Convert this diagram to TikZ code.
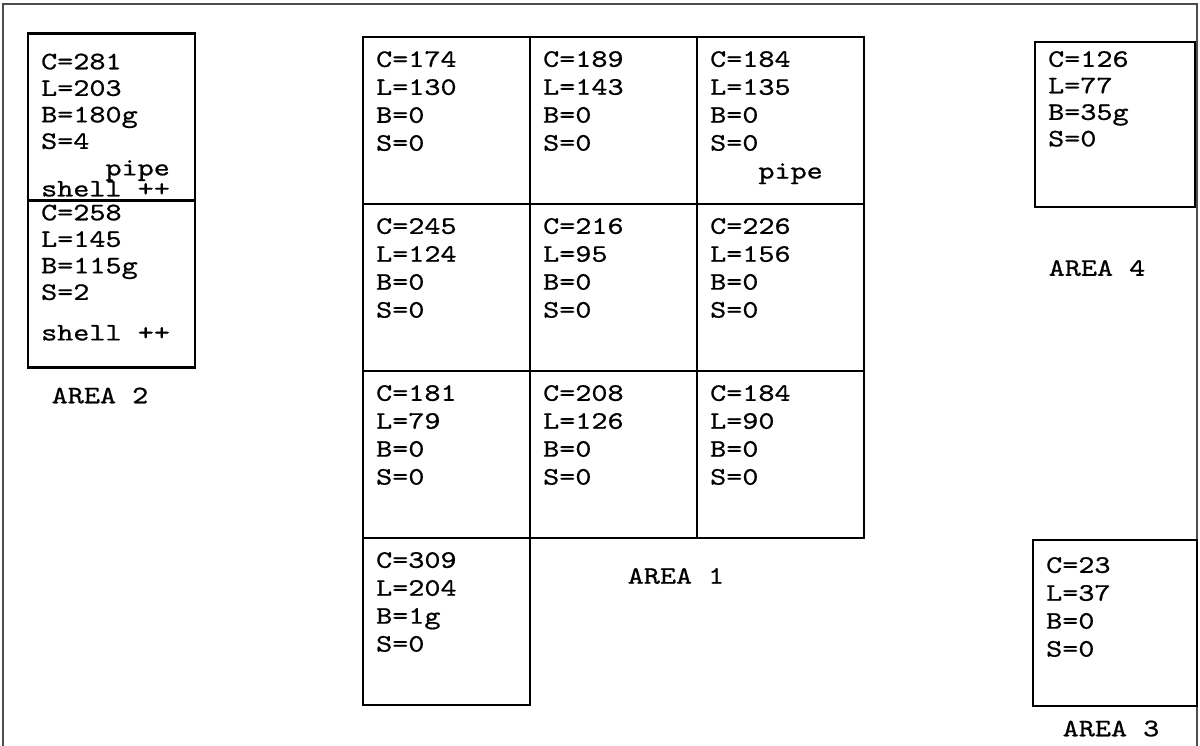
\documentclass[tikz,border=0pt]{standalone}
\usepackage{fontspec}
\setmonofont{lmmono10-regular.otf}[FakeStretch=1.22, FakeBold=0.7]
\usetikzlibrary{positioning}
\newcommand{\tallyfont}{\fontsize{14.3}{15.9}\selectfont\ttfamily}
\tikzset{
  every picture/.style={line width=1.3pt},
  plot/.style={draw, rectangle, inner sep=0pt, outer sep=0pt, minimum width=3.34cm, minimum height=3.34cm},
  tally/.style={font=\tallyfont, align=left, inner sep=0pt, anchor=north west},
  tight/.style={font=\fontsize{14.3}{15.1}\selectfont\ttfamily},
  areatag/.style={font=\tallyfont, inner sep=0pt},
  frame/.style={line width=0.6pt, draw=black!70},
}

\begin{document}
\begin{tikzpicture}[x=0.02cm, y=-0.02cm]
  \useasboundingbox (0,0) rectangle (1200,746);
  \draw[frame] (3,746) -- (3,4) -- (1197,4) -- (1197,746);
  % area 1: the grid of plots
  \foreach \i/\j/\txt in {1/1/{C=174\\L=130\\B=0\\S=0}, 2/1/{C=189\\L=143\\B=0\\S=0},
      3/1/{C=184\\L=135\\B=0\\S=0\\\phantom{xxx}pipe},
      1/2/{C=245\\L=124\\B=0\\S=0}, 2/2/{C=216\\L=95\\B=0\\S=0}, 3/2/{C=226\\L=156\\B=0\\S=0},
      1/3/{C=181\\L=79\\B=0\\S=0}, 2/3/{C=208\\L=126\\B=0\\S=0}, 3/3/{C=184\\L=90\\B=0\\S=0},
      1/4/{C=309\\L=204\\B=1g\\S=0}} {
    \node[plot] (p\i\j) at (279.5+167*\i, -46.5+167*\j) {};
    \node[tally] (t\i\j) at ([shift={(12,13)}]p\i\j.north west) {\txt};
  }
  \node[areatag] (tag1) at (676,576) {AREA 1};
  % area 2
  \node[plot] (a2t) at (111.5,117) {};
  \node[plot] (a2b) at (111.5,284) {};
  \node[tally, tight] (t2t) at ([shift={(12,19)}]a2t.north west) {C=281\\L=203\\B=180g\\S=4\\\phantom{xxxx}pipe\\[-0.11cm]shell ++};
  \node[tally, tight] (t2b) at ([shift={(12,3)}]a2b.north west) {C=258\\L=145\\B=115g\\S=2\\[0.28cm]shell ++};
  \node[areatag, below=0.38cm of a2b, xshift=-0.23cm] (tag2) {AREA 2};
  % area 4
  \node[plot, minimum width=3.2cm, minimum height=3.3cm] (a4) at (1115,124.5) {};
  \node[tally, tight] (t4) at ([shift={(12,8)}]a4.north west) {C=126\\L=77\\B=35g\\S=0};
  \node[areatag, below=1.04cm of a4, xshift=-0.36cm] (tag4) {AREA 4};
  % area 3
  \node[plot, minimum width=3.28cm, minimum height=3.32cm] (a3) at (1115,623) {};
  \node[tally] (t3) at ([shift={(12,16)}]a3.north west) {C=23\\L=37\\B=0\\S=0};
  \node[areatag, below=0.27cm of a3, xshift=-0.08cm] (tag3) {AREA 3};
\end{tikzpicture}
\end{document}
